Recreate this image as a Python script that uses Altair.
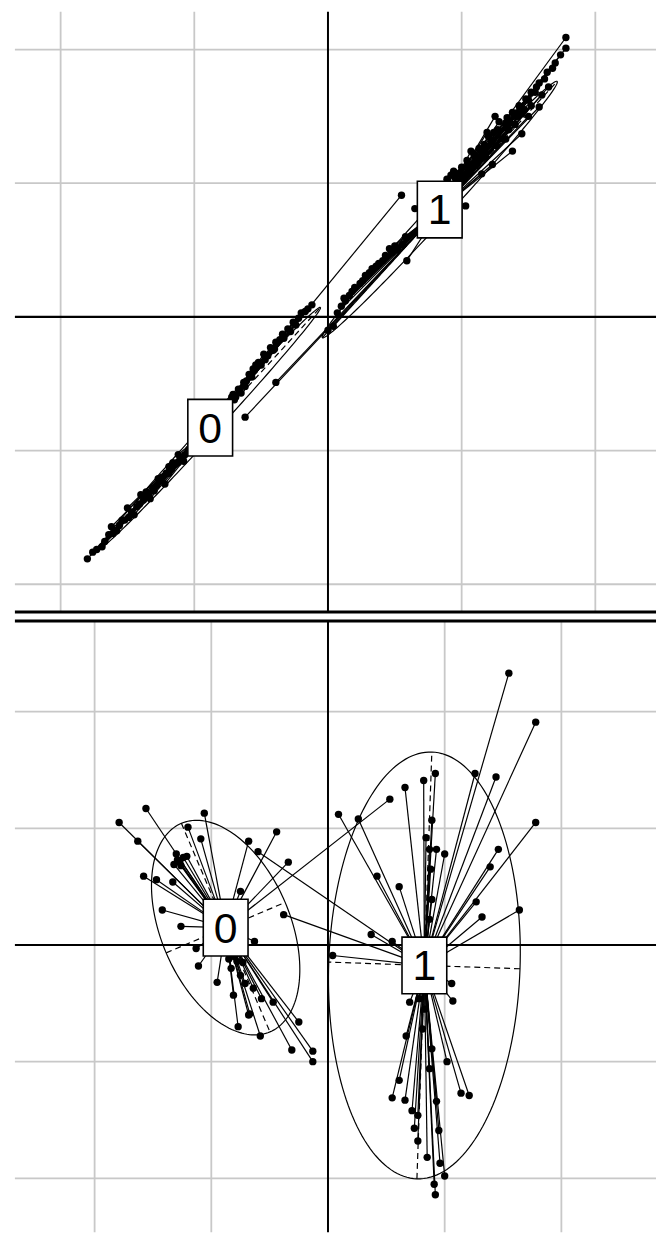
import numpy as np
import pandas as pd
import altair as alt

# ---------------------------------------------------------------
# Grid lines (one unit apart) shared by both factorial maps
# ---------------------------------------------------------------
grid_values = [-2, -1, 1, 2]

# ---------------------------------------------------------------
# Upper map: row scores of group 0 and group 1
# ---------------------------------------------------------------
top_g0_x = [-1.80, -1.73, -1.67, -1.61, -1.56, -1.52, -1.47, -1.43, -1.38, -1.34,
            -1.31, -1.28, -1.25, -1.21, -1.17, -1.14, -1.10, -1.07, -1.04, -1.00,
            -0.95, -0.74, -0.71, -0.67, -0.63, -0.59, -0.56, -0.52, -0.48, -0.43,
            -0.39, -0.34, -0.30, -0.26, -0.22, -0.17, -0.12, 0.55,
            -1.62, -1.50, -1.36, -1.27, -1.19, -1.12, -0.69, -0.61, -0.50, -0.41,
            -1.45, -1.40, -1.33, -1.22, -1.16, -1.08, -1.02, -0.98, -0.72, -0.65,
            -0.57, -0.54, -0.45, -0.36, -0.28, -0.20,
            -1.76, -1.69, -1.64, -1.58, -1.54, -1.49, -1.41, -1.36, -1.30, -1.24,
            -1.19, -1.12, -1.05, -0.99, -0.70, -0.62, -0.55, -0.47, -0.40, -0.33,
            -0.24, -0.15]
top_g0_y = [-1.81, -1.74, -1.68, -1.62, -1.56, -1.52, -1.46, -1.42, -1.37, -1.32,
            -1.28, -1.26, -1.22, -1.17, -1.14, -1.10, -1.06, -1.03, -0.99, -0.94,
            -0.88, -0.64, -0.58, -0.54, -0.49, -0.43, -0.39, -0.34, -0.28, -0.23,
            -0.19, -0.13, -0.09, -0.04, -0.01, 0.04, 0.09, 0.91,
            -1.57, -1.43, -1.31, -1.21, -1.12, -1.03, -0.60, -0.48, -0.36, -0.25,
            -1.48, -1.33, -1.36, -1.25, -1.09, -1.08, -0.95, -0.97, -0.60, -0.57,
            -0.45, -0.36, -0.29, -0.17, -0.11, 0.03,
            -1.76, -1.72, -1.63, -1.60, -1.52, -1.50, -1.40, -1.33, -1.30, -1.20,
            -1.17, -1.09, -1.01, -0.92, -0.62, -0.52, -0.40, -0.32, -0.24, -0.16,
            -0.06, 0.06]

top_g1_x = [1.78, 1.78, 1.70, 1.64, 1.65, 1.58, 1.58, 1.52, 1.48, 1.45,
            1.43, 1.38, 1.38, 1.34, 1.28, 1.25, 1.24, 1.23, 1.20, 1.19,
            1.17, 1.15, 1.13, 1.09, 1.07, 1.04, 1.03, 1.00, 0.97, 0.94,
            0.92, 0.89, 0.65, 0.59, 0.56, 0.48, 0.41, 0.36, 0.31, 0.24,
            0.16, 0.10, 0.04, 0.00, -0.62, -0.39, 1.50, 1.33, 1.10, 0.52,
            1.55, 1.47, 1.40, 1.35, 1.30, 1.26, 1.18, 1.12, 1.06, 1.02,
            0.98, 0.93, 1.52, 1.42, 1.36, 1.60, 0.46, 0.38, 0.28, 0.20,
            0.13, 0.07,
            1.74, 1.68, 1.62, 1.56, 1.50, 1.45, 1.40, 1.33, 1.27, 1.22,
            1.15, 1.10, 1.05, 0.99, 0.95, 0.58, 0.50, 0.43, 0.33, 0.26,
            0.18, 0.12]
top_g1_y = [2.09, 2.01, 1.90, 1.83, 1.72, 1.75, 1.57, 1.68, 1.63, 1.37,
            1.58, 1.53, 1.24, 1.49, 1.46, 1.50, 1.38, 1.14, 1.35, 1.38,
            1.29, 1.07, 1.26, 1.22, 1.24, 1.17, 0.83, 1.12, 1.07, 1.09,
            1.06, 1.03, 0.81, 0.42, 0.54, 0.48, 0.42, 0.38, 0.33, 0.25,
            0.16, 0.08, -0.07, -0.10, -0.75, -0.49, 1.50, 1.33, 1.15, 0.50,
            1.68, 1.55, 1.44, 1.40, 1.33, 1.28, 1.20, 1.16, 1.08, 1.05,
            1.00, 0.97, 1.58, 1.50, 1.45, 1.66, 0.51, 0.40, 0.31, 0.22,
            0.12, 0.03,
            1.96, 1.86, 1.78, 1.72, 1.62, 1.52, 1.50, 1.45, 1.40, 1.32,
            1.24, 1.20, 1.13, 1.08, 1.04, 0.60, 0.53, 0.46, 0.36, 0.27,
            0.19, 0.14]

top_centre_x = [-0.881, 0.836]
top_centre_y = [-0.829, 0.803]
top_ell_a = [1.22, 1.30]
top_ell_b = [0.05, 0.07]
top_ell_angle = [47.5, 47.5]

# ---------------------------------------------------------------
# Lower map: row scores of group 0 and group 1
# ---------------------------------------------------------------
bot_g0_x = [-1.79, -1.56, -1.06, -1.63, -1.20, -1.09, -0.68, -0.44, -0.34, -1.58,
            -1.47, -1.33, -1.29, -1.24, -1.32, -1.21, -1.26, -0.75, -1.42, -1.26,
            -1.13, -0.63, -1.11, -0.95, -0.81, -0.78, -0.75, -0.68, -0.77, -0.58,
            -0.31, -0.25, -0.13, -0.13, -0.47, -0.64, -0.67, -0.57, -0.83, -0.71,
            -0.85, 0.53, -1.30, -1.27, -0.80, -0.73]
bot_g0_y = [1.05, 1.17, 1.13, 0.89, 1.01, 0.91, 0.89, 0.97, 0.71, 0.59,
            0.56, 0.54, 0.73, 0.75, 0.69, 0.76, 0.68, 0.46, 0.30, 0.16,
            -0.03, 0.03, -0.18, -0.32, -0.43, -0.14, -0.26, -0.60, -0.70, -0.78,
            -0.90, -0.66, -0.91, -1.00, -0.49, -0.37, -0.59, -0.46, -0.20, -0.33,
            -0.12, 1.25, 0.78, 0.71, -0.10, -0.15]

bot_g1_x = [1.55, 1.78, 1.78, 0.09, 0.26, 0.66, 0.82, 0.92, 1.26, 1.44,
            0.89, 0.84, 1.00, 0.93, 1.46, 1.39, 1.27, 1.32, 1.64, 0.42,
            0.61, 0.37, 0.55, 0.04, -0.60, -0.38, 1.06, 1.07, 0.70, 0.67,
            0.61, 0.55, 0.66, 0.72, 0.74, 0.77, 1.02, 1.14, 1.21, 0.95,
            1.00, 0.91, 0.92, 0.81, 0.87, 0.93, 0.77, 0.89, 0.83, 0.78,
            0.85, 0.96, 0.87, 0.88, 0.89, 0.87]
bot_g1_y = [2.33, 1.91, 1.05, 1.12, 1.08, 1.35, 1.41, 1.47, 1.47, 1.44,
            1.07, 0.92, 0.78, 0.82, 0.82, 0.67, 0.37, 0.24, 0.30, 0.59,
            0.50, 0.09, 0.03, -0.09, 0.80, 0.26, -0.33, -0.48, -0.49, -0.78,
            -1.16, -1.31, -1.33, -1.42, -1.57, -1.68, -1.00, -1.27, -1.29, -1.59,
            -1.98, -2.05, -2.14, -0.72, -1.06, -1.34, -1.46, -0.89, -0.55, -0.46,
            -1.82, -1.87, 0.82, 0.65, 0.39, 0.22]

bot_centre_x = [-0.877, 0.826]
bot_centre_y = [0.149, -0.175]
bot_ell_a = [0.971, 1.83]
bot_ell_b = [0.554, 0.82]
bot_ell_angle = [-67.0, 88.0]

group_labels = ["0", "1"]

# box drawn around each group label (custom symbol in unit square)
BOX_PATH = "M-0.79,-1L0.79,-1L0.79,1L-0.79,1Z"
BOX_SIZE = 3249
LABEL_FONT = "Liberation Sans"


def ellipse_frames(cx, cy, a, b, angle):
    rows, axes = [], []
    t = np.linspace(0, 2 * np.pi, 181)
    for g in range(2):
        th = np.deg2rad(angle[g])
        ex = cx[g] + a[g] * np.cos(th) * np.cos(t) - b[g] * np.sin(th) * np.sin(t)
        ey = cy[g] + a[g] * np.sin(th) * np.cos(t) + b[g] * np.cos(th) * np.sin(t)
        for i, (xx, yy) in enumerate(zip(ex, ey)):
            rows.append({"g": group_labels[g], "i": i, "x": xx, "y": yy})
        ux, uy = np.cos(th), np.sin(th)
        vx, vy = -np.sin(th), np.cos(th)
        axes.append({"x": cx[g] - a[g] * ux, "y": cy[g] - a[g] * uy,
                     "x2": cx[g] + a[g] * ux, "y2": cy[g] + a[g] * uy})
        axes.append({"x": cx[g] - b[g] * vx, "y": cy[g] - b[g] * vy,
                     "x2": cx[g] + b[g] * vx, "y2": cy[g] + b[g] * vy})
    return pd.DataFrame(rows), pd.DataFrame(axes)


def panel(gx, gy, cx, cy, ea, eb, eang, xdom, ydom, w, h, border_y):
    xs = alt.Scale(domain=xdom, nice=False, zero=False)
    ys = alt.Scale(domain=ydom, nice=False, zero=False)

    def X(f):
        return alt.X(f, type="quantitative", scale=xs, axis=None)

    def Y(f):
        return alt.Y(f, type="quantitative", scale=ys, axis=None)

    grid = pd.DataFrame({"v": grid_values})
    zero = pd.DataFrame({"v": [0]})

    pts = []
    for g in range(2):
        for xx, yy in zip(gx[g], gy[g]):
            pts.append({"g": group_labels[g], "x": xx, "y": yy,
                        "cx": cx[g], "cy": cy[g]})
    pts = pd.DataFrame(pts)
    cent = pd.DataFrame({"g": group_labels, "x": cx, "y": cy})
    ell, ell_axes = ellipse_frames(cx, cy, ea, eb, eang)

    gv = alt.Chart(grid).mark_rule(color="#c8c8c8", strokeWidth=1.8).encode(x=X("v"))
    gh = alt.Chart(grid).mark_rule(color="#c8c8c8", strokeWidth=1.8).encode(y=Y("v"))
    zv = alt.Chart(zero).mark_rule(color="black", strokeWidth=2).encode(x=X("v"))
    zh = alt.Chart(zero).mark_rule(color="black", strokeWidth=2.2).encode(y=Y("v"))

    stars = alt.Chart(pts).mark_rule(color="black", strokeWidth=1.2).encode(
        x=X("x"), y=Y("y"), x2="cx", y2="cy")
    ellipses = alt.Chart(ell).mark_line(color="black", strokeWidth=1.2).encode(
        x=X("x"), y=Y("y"), detail="g:N", order="i:Q")
    ell_ax = alt.Chart(ell_axes).mark_rule(
        color="black", strokeWidth=1.2, strokeDash=[6, 4]).encode(
        x=X("x"), y=Y("y"), x2="x2", y2="y2")
    dots = alt.Chart(pts).mark_circle(color="black", size=55, opacity=1).encode(
        x=X("x"), y=Y("y"))
    boxes = alt.Chart(cent).mark_point(
        shape=BOX_PATH, size=BOX_SIZE, filled=True, fill="white", stroke="black",
        strokeWidth=1.6, opacity=1, fillOpacity=1).encode(x=X("x"), y=Y("y"))
    labels = alt.Chart(cent).mark_text(
        font=LABEL_FONT, fontSize=43, color="black", align="center",
        baseline="middle", dy=2).encode(x=X("x"), y=Y("y"), text="g:N")
    border = alt.Chart(zero).mark_rule(color="black", strokeWidth=3).encode(
        x=alt.value(0), x2=alt.value(w), y=alt.value(border_y))

    return alt.layer(gv, gh, zv, zh, ellipses, ell_ax, stars, dots, boxes, labels,
                     border).properties(width=w, height=h)


top = panel([top_g0_x, top_g1_x], [top_g0_y, top_g1_y], top_centre_x, top_centre_y,
            top_ell_a, top_ell_b, top_ell_angle,
            [-2.342, 2.454], [-2.208, 2.283], 645, 604, 604)
bottom = panel([bot_g0_x, bot_g1_x], [bot_g0_y, bot_g1_y], bot_centre_x, bot_centre_y,
               bot_ell_a, bot_ell_b, bot_ell_angle,
               [-2.683, 2.811], [-2.462, 2.777], 645, 615, 0)

chart = alt.vconcat(top, bottom, spacing=9, bounds="flush").properties(
    padding={"left": 13, "top": 7, "right": 0, "bottom": 0},
    background="white",
).configure_view(stroke=None)

chart.save("out.html", embed_options={"renderer": "svg", "actions": False})
